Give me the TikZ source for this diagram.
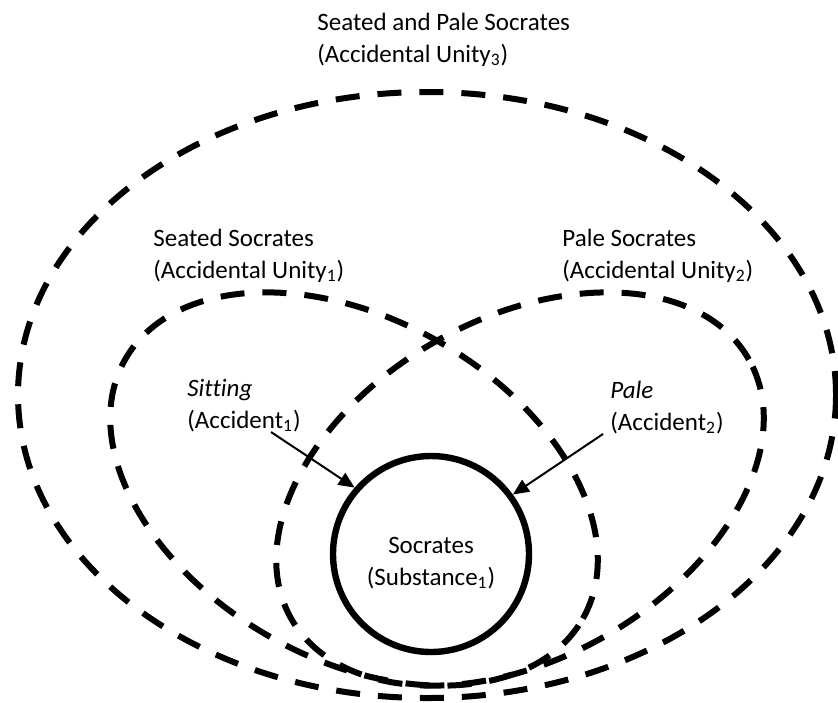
\documentclass[tikz,border=0pt]{standalone}
\usepackage{fontspec}
\setmainfont{Carlito}[Ligatures=NoCommon]
\usetikzlibrary{arrows.meta}
\usetikzlibrary{positioning}
\tikzset{
  unity/.style={line width=3pt, dash pattern=on 12pt off 9pt},
  substance/.style={circle, draw, line width=3.2pt, minimum size=98pt, inner sep=0},
  lbl/.style={anchor=base west, inner sep=0, align=left, font=\fontsize{12.5}{16}\selectfont},
  arrow/.style={-{Triangle[length=8pt, width=7pt]}, line width=1pt}
}
\begin{document}
\begin{tikzpicture}[x=0.5pt, y=-0.5pt]
  \useasboundingbox (0,0) rectangle (838,702);

  % accidental unities
  \draw[unity] (427,395) ellipse [x radius=204.5pt, y radius=151.5pt];
  \draw[unity, rotate around={-29.5:(354,489)}] (354,489) ellipse [x radius=131.5pt, y radius=85pt];
  \draw[unity, rotate around={29.5:(520,489)}] (520,489) ellipse [x radius=131.5pt, y radius=85pt];

  % substance
  \node[substance] (substance) at (431,554) {};
  \node[lbl, anchor=base, align=center] (socrates) at (431,585) {Socrates\\(Substance\textsubscript{1})};

  % labels (base = last line)
  \node[lbl] (unity3) at (317,62) {Seated and Pale Socrates\\(Accidental Unity\textsubscript{3})};
  \node[lbl] (unity1) at (153,278) {Seated Socrates\\(Accidental Unity\textsubscript{1})};
  \node[lbl] (unity2) at (562,278) {Pale Socrates\\(Accidental Unity\textsubscript{2})};
  \node[lbl] (sitting) at (187,428) {\textit{Sitting}\\(Accident\textsubscript{1})};
  \node[lbl] (pale) at (610,430) {\textit{Pale}\\(Accident\textsubscript{2})};

  \draw[arrow] ([xshift=-15pt]sitting.south east) -- (substance.139);
  \draw[arrow] ([xshift=-3.5pt]pale.south west) -- (substance.36);
\end{tikzpicture}
\end{document}
